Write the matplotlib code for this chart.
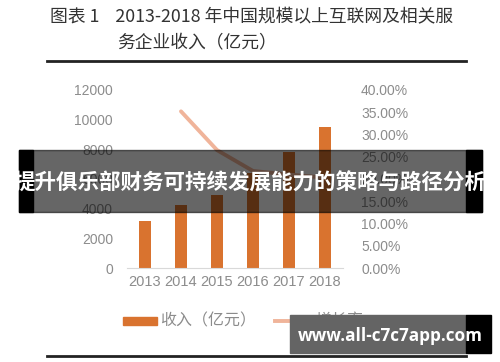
import matplotlib
matplotlib.use('Agg')
import matplotlib.pyplot as plt
from matplotlib.lines import Line2D
from matplotlib.patches import Rectangle

plt.rcParams['font.family'] = ['Noto Sans CJK SC', 'DejaVu Sans']

years = ['2013', '2014', '2015', '2016', '2017', '2018']
revenue = [3200, 4250, 4900, 6400, 7800, 9500]
growth_years = ['2014', '2015', '2016', '2017', '2018']
growth = [35.2, 26.5, 21.8, 21.0, 20.3]

title1 = '图表 1    2013-2018 年中国规模以上互联网及相关服'
title2 = '务企业收入（亿元）'
banner = '提升俱乐部财务可持续发展能力的策略与路径分析'
watermark = 'www.all-c7c7app.com'

W, H = 500, 362
fig = plt.figure(figsize=(W / 100, H / 100), dpi=100)


def fx(px):
    return px / W


def fy(py):
    return 1 - py / H


bar_color = '#D9732F'
line_color = '#F0B49A'
tick_color = '#8C8C8C'

ax = fig.add_axes([fx(127), fy(268), fx(216), 178 / H])
x = list(range(len(years)))
ax.bar(x, revenue, width=0.32, color=bar_color, zorder=2)
ax.set_xlim(-0.5, 5.5)
ax.set_ylim(0, 12000)
ax.set_yticks(range(0, 12001, 2000))
ax.set_xticks(x)
ax.set_xticklabels(years)
for s in ['top', 'right', 'left']:
    ax.spines[s].set_visible(False)
ax.spines['bottom'].set_color('#D9D9D9')
ax.tick_params(axis='y', length=0, pad=10, labelsize=10, labelcolor=tick_color)
ax.tick_params(axis='x', length=0, pad=5, labelsize=10.5, labelcolor=tick_color)
for t in ax.get_xticklabels() + ax.get_yticklabels():
    t.set_family('Liberation Sans')

ax2 = ax.twinx()
gx = [years.index(y) for y in growth_years]
ax2.plot(gx, growth, color=line_color, lw=2.8, solid_capstyle='round', zorder=3)
ax2.set_ylim(0, 40)
ax2.set_yticks(range(0, 41, 5))
ax2.set_yticklabels(['%.2f%%' % v for v in range(0, 41, 5)])
for s in ['top', 'right', 'left', 'bottom']:
    ax2.spines[s].set_visible(False)
ax2.tick_params(axis='y', length=0, pad=13, labelsize=10, labelcolor=tick_color)
for t in ax2.get_yticklabels():
    t.set_family('Liberation Sans')

# title
fig.text(fx(50), fy(17), title1, fontsize=12.8, color='#333333', va='center', ha='left')
fig.text(fx(117), fy(43), title2, fontsize=12.8, color='#333333', va='center', ha='left')
fig.add_artist(Line2D([fx(47), fx(466)], [fy(61), fy(61)], color='#222222', lw=2))
fig.add_artist(Line2D([fx(47), fx(466)], [fy(356), fy(356)], color='#222222', lw=2))

# legend
fig.add_artist(Rectangle((fx(123), fy(325)), fx(34), 8 / H, color=bar_color))
fig.text(fx(160), fy(321), '收入（亿元）', fontsize=11.5, color=tick_color, va='center')
fig.add_artist(Line2D([fx(275), fx(310)], [fy(321), fy(321)], color=line_color, lw=2.8))
fig.text(fx(315), fy(320), '增长率', fontsize=11.5, color=tick_color, va='center')

# banner overlay
fig.add_artist(Rectangle((fx(19), fy(212)), fx(463), 62 / H, color='black', alpha=0.6, zorder=10))
fig.add_artist(Rectangle((fx(19), fy(212)), fx(14), 62 / H, color='black', zorder=10))
fig.add_artist(Rectangle((fx(466), fy(212)), fx(16), 62 / H, color='black', zorder=10))
fig.text(fx(250), fy(183), banner, fontsize=15.5, color='white', fontweight='bold',
         ha='center', va='center', zorder=11)

# watermark
fig.add_artist(Rectangle((fx(290), fy(353)), fx(176), 38 / H, color='#646464', zorder=10))
fig.add_artist(Rectangle((fx(466), fy(353)), fx(25), 38 / H, color='black', zorder=10))
fig.text(fx(390), fy(336), watermark, fontsize=12.3, color='white', fontweight='bold',
         family=['Open Sans', 'DejaVu Sans'], ha='center', va='center', zorder=11)

fig.savefig('out.png', dpi=100)
